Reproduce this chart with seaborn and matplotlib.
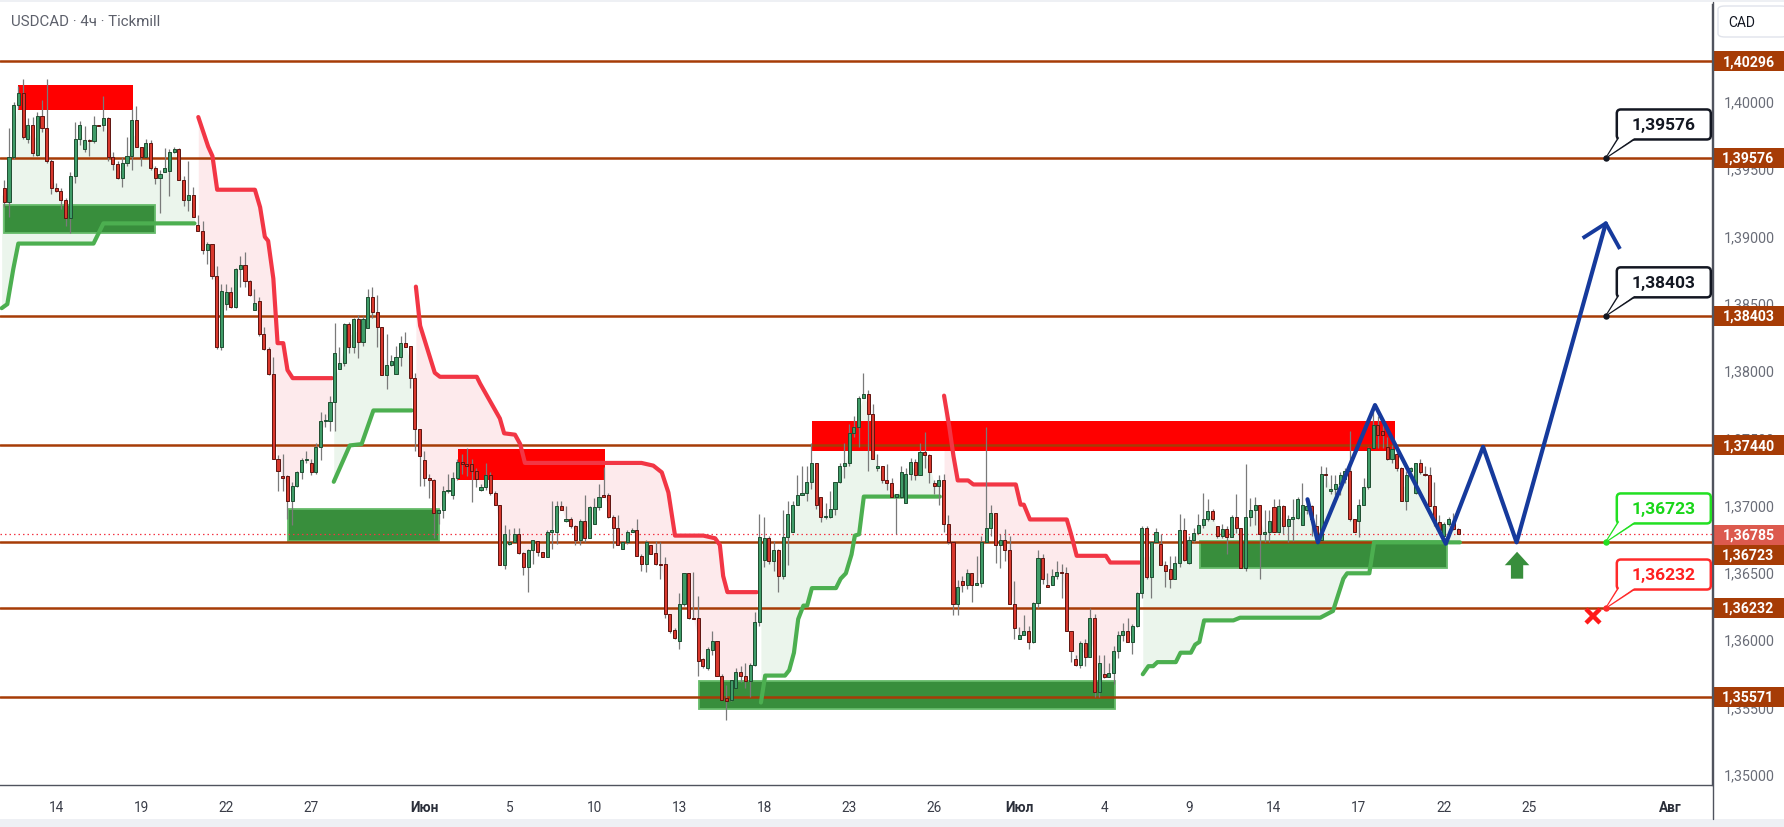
import numpy as np
import matplotlib
matplotlib.use("Agg")
import matplotlib.pyplot as plt
import matplotlib.transforms as mtransforms
from matplotlib.patches import Rectangle, Polygon, FancyBboxPatch
from matplotlib.lines import Line2D
import seaborn as sns

# ---------------- data (USDCAD 4h, Tickmill) ----------------
opens = [
 1.3935, 1.3925, 1.3958, 1.3997, 1.4006, 1.3972, 1.3982, 1.3960, 1.3989, 1.3980,
 1.3955, 1.3935, 1.3933, 1.3926, 1.3913, 1.3944, 1.3972, 1.3964, 1.3971, 1.3970,
 1.3982, 1.3982, 1.3987, 1.3958, 1.3953, 1.3943, 1.3954, 1.3959, 1.3986, 1.3966,
 1.3958, 1.3969, 1.3950, 1.3943, 1.3947, 1.3948, 1.3962, 1.3964, 1.3941, 1.3926,
 1.3930, 1.3908, 1.3903, 1.3889, 1.3894, 1.3870, 1.3817, 1.3849, 1.3858, 1.3847,
 1.3875, 1.3878, 1.3866, 1.3845, 1.3851, 1.3827, 1.3816, 1.3797, 1.3734, 1.3721,
 1.3721, 1.3703, 1.3714, 1.3724, 1.3733, 1.3731, 1.3724, 1.3743, 1.3762, 1.3762,
 1.3776, 1.3801, 1.3805, 1.3834, 1.3817, 1.3838, 1.3821, 1.3831, 1.3854, 1.3843,
 1.3832, 1.3796, 1.3804, 1.3797, 1.3810, 1.3820, 1.3818, 1.3794, 1.3756, 1.3733,
 1.3720, 1.3718, 1.3694, 1.3696, 1.3710, 1.3707, 1.3720, 1.3732, 1.3730, 1.3730,
 1.3725, 1.3711, 1.3713, 1.3722, 1.3709, 1.3700, 1.3655, 1.3671, 1.3672, 1.3678,
 1.3664, 1.3654, 1.3666, 1.3673, 1.3665, 1.3661, 1.3680, 1.3680, 1.3699, 1.3688,
 1.3689, 1.3684, 1.3674, 1.3688, 1.3675, 1.3686, 1.3698, 1.3707, 1.3707, 1.3691,
 1.3683, 1.3667, 1.3672, 1.3680, 1.3681, 1.3662, 1.3656, 1.3670, 1.3664, 1.3656,
 1.3656, 1.3619, 1.3607, 1.3599, 1.3626, 1.3649, 1.3616, 1.3616, 1.3585, 1.3579,
 1.3592, 1.3599, 1.3573, 1.3556, 1.3555, 1.3564, 1.3576, 1.3573, 1.3569, 1.3581,
 1.3613, 1.3659, 1.3675, 1.3658, 1.3666, 1.3647, 1.3676, 1.3680, 1.3700, 1.3707,
 1.3709, 1.3717, 1.3731, 1.3706, 1.3691, 1.3691, 1.3697, 1.3717, 1.3729, 1.3731,
 1.3753, 1.3758, 1.3779, 1.3782, 1.3767, 1.3727, 1.3729, 1.3718, 1.3716, 1.3706,
 1.3706, 1.3701, 1.3723, 1.3732, 1.3722, 1.3739, 1.3737, 1.3716, 1.3714, 1.3718,
 1.3686, 1.3672, 1.3626, 1.3643, 1.3640, 1.3649, 1.3640, 1.3642, 1.3672, 1.3683,
 1.3694, 1.3670, 1.3674, 1.3666, 1.3626, 1.3600, 1.3603, 1.3606, 1.3598, 1.3627,
 1.3660, 1.3640, 1.3640, 1.3647, 1.3650, 1.3649, 1.3606, 1.3585, 1.3581, 1.3597,
 1.3587, 1.3616, 1.3561, 1.3574, 1.3572, 1.3575, 1.3591, 1.3603, 1.3606, 1.3598,
 1.3610, 1.3634, 1.3683, 1.3646, 1.3672, 1.3671, 1.3655, 1.3652, 1.3645, 1.3657,
 1.3681, 1.3657, 1.3674, 1.3679, 1.3685, 1.3689, 1.3695, 1.3684, 1.3677, 1.3682,
 1.3676, 1.3691, 1.3683, 1.3653, 1.3691, 1.3696, 1.3700, 1.3678, 1.3680, 1.3698,
 1.3680, 1.3699, 1.3684, 1.3689, 1.3690, 1.3685, 1.3696, 1.3699, 1.3684, 1.3674,
 1.3723, 1.3710, 1.3712, 1.3715, 1.3719, 1.3725, 1.3689, 1.3688, 1.3700, 1.3713,
 1.3742, 1.3759, 1.3755, 1.3743, 1.3734, 1.3738, 1.3727, 1.3703, 1.3725, 1.3709,
 1.3731, 1.3723, 1.3722, 1.3699, 1.3687, 1.3677, 1.3686, 1.3687, 1.3682]

closes = [
 1.3925, 1.3958, 1.3997, 1.4006, 1.3973, 1.3982, 1.3961, 1.3989, 1.3980, 1.3955,
 1.3935, 1.3933, 1.3926, 1.3913, 1.3944, 1.3972, 1.3982, 1.3971, 1.3970, 1.3982,
 1.3981, 1.3987, 1.3958, 1.3953, 1.3943, 1.3954, 1.3959, 1.3986, 1.3966, 1.3958,
 1.3969, 1.3950, 1.3943, 1.3946, 1.3950, 1.3962, 1.3964, 1.3941, 1.3926, 1.3930,
 1.3914, 1.3903, 1.3889, 1.3894, 1.3870, 1.3817, 1.3859, 1.3858, 1.3847, 1.3875,
 1.3878, 1.3866, 1.3856, 1.3850, 1.3827, 1.3816, 1.3797, 1.3734, 1.3725, 1.3720,
 1.3703, 1.3714, 1.3724, 1.3733, 1.3734, 1.3724, 1.3743, 1.3762, 1.3763, 1.3776,
 1.3813, 1.3805, 1.3834, 1.3817, 1.3838, 1.3821, 1.3838, 1.3854, 1.3843, 1.3832,
 1.3796, 1.3804, 1.3807, 1.3810, 1.3820, 1.3817, 1.3794, 1.3756, 1.3736, 1.3720,
 1.3718, 1.3694, 1.3696, 1.3710, 1.3711, 1.3720, 1.3732, 1.3730, 1.3729, 1.3725,
 1.3719, 1.3713, 1.3722, 1.3709, 1.3700, 1.3655, 1.3678, 1.3672, 1.3678, 1.3664,
 1.3654, 1.3666, 1.3674, 1.3665, 1.3661, 1.3680, 1.3681, 1.3699, 1.3696, 1.3689,
 1.3684, 1.3674, 1.3688, 1.3675, 1.3698, 1.3698, 1.3706, 1.3706, 1.3691, 1.3683,
 1.3670, 1.3672, 1.3680, 1.3681, 1.3662, 1.3656, 1.3672, 1.3663, 1.3656, 1.3655,
 1.3619, 1.3606, 1.3601, 1.3626, 1.3649, 1.3616, 1.3615, 1.3584, 1.3580, 1.3593,
 1.3599, 1.3573, 1.3555, 1.3554, 1.3570, 1.3576, 1.3573, 1.3569, 1.3581, 1.3613,
 1.3676, 1.3675, 1.3658, 1.3666, 1.3647, 1.3676, 1.3693, 1.3700, 1.3707, 1.3709,
 1.3717, 1.3731, 1.3700, 1.3691, 1.3691, 1.3697, 1.3717, 1.3729, 1.3731, 1.3753,
 1.3758, 1.3779, 1.3782, 1.3767, 1.3734, 1.3729, 1.3718, 1.3716, 1.3706, 1.3708,
 1.3724, 1.3723, 1.3732, 1.3722, 1.3739, 1.3737, 1.3724, 1.3714, 1.3718, 1.3686,
 1.3672, 1.3626, 1.3639, 1.3640, 1.3649, 1.3640, 1.3642, 1.3672, 1.3683, 1.3694,
 1.3670, 1.3674, 1.3666, 1.3626, 1.3608, 1.3603, 1.3606, 1.3598, 1.3627, 1.3660,
 1.3645, 1.3639, 1.3647, 1.3650, 1.3649, 1.3606, 1.3591, 1.3581, 1.3597, 1.3587,
 1.3616, 1.3561, 1.3582, 1.3572, 1.3575, 1.3591, 1.3603, 1.3606, 1.3598, 1.3610,
 1.3634, 1.3683, 1.3646, 1.3672, 1.3680, 1.3655, 1.3651, 1.3645, 1.3657, 1.3681,
 1.3659, 1.3674, 1.3679, 1.3685, 1.3689, 1.3695, 1.3689, 1.3677, 1.3682, 1.3676,
 1.3691, 1.3683, 1.3653, 1.3691, 1.3696, 1.3700, 1.3678, 1.3680, 1.3688, 1.3680,
 1.3699, 1.3684, 1.3689, 1.3691, 1.3704, 1.3700, 1.3699, 1.3689, 1.3675, 1.3723,
 1.3722, 1.3712, 1.3715, 1.3722, 1.3725, 1.3689, 1.3680, 1.3700, 1.3713, 1.3742,
 1.3759, 1.3752, 1.3752, 1.3734, 1.3741, 1.3727, 1.3703, 1.3722, 1.3727, 1.3731,
 1.3724, 1.3722, 1.3699, 1.3687, 1.3681, 1.3686, 1.3689, 1.3682, 1.36785]

highs = [
 1.3941, 1.3980, 1.3999, 1.4011, 1.4016, 1.3987, 1.3988, 1.3992, 1.4001, 1.4016,
 1.3957, 1.3939, 1.3935, 1.3928, 1.3947, 1.3984, 1.3985, 1.3981, 1.3972, 1.3989,
 1.3982, 1.4004, 1.3988, 1.3962, 1.3955, 1.3958, 1.3973, 1.3994, 1.3996, 1.3966,
 1.3972, 1.3971, 1.3952, 1.3949, 1.3965, 1.3964, 1.3966, 1.3965, 1.3944, 1.3955,
 1.3936, 1.3915, 1.3911, 1.3895, 1.3894, 1.3877, 1.3864, 1.3864, 1.3862, 1.3876,
 1.3885, 1.3888, 1.3867, 1.3860, 1.3854, 1.3832, 1.3817, 1.3810, 1.3737, 1.3738,
 1.3722, 1.3717, 1.3725, 1.3735, 1.3740, 1.3734, 1.3746, 1.3769, 1.3767, 1.3781,
 1.3835, 1.3817, 1.3835, 1.3836, 1.3839, 1.3841, 1.3840, 1.3860, 1.3862, 1.3856,
 1.3832, 1.3827, 1.3811, 1.3818, 1.3825, 1.3828, 1.3818, 1.3798, 1.3756, 1.3740,
 1.3723, 1.3719, 1.3697, 1.3714, 1.3723, 1.3724, 1.3734, 1.3738, 1.3742, 1.3734,
 1.3727, 1.3715, 1.3731, 1.3724, 1.3710, 1.3700, 1.3685, 1.3682, 1.3683, 1.3683,
 1.3665, 1.3667, 1.3674, 1.3673, 1.3665, 1.3681, 1.3703, 1.3703, 1.3703, 1.3699,
 1.3691, 1.3685, 1.3689, 1.3707, 1.3699, 1.3705, 1.3715, 1.3728, 1.3709, 1.3692,
 1.3692, 1.3673, 1.3681, 1.3683, 1.3689, 1.3663, 1.3674, 1.3670, 1.3673, 1.3672,
 1.3661, 1.3619, 1.3608, 1.3634, 1.3649, 1.3649, 1.3650, 1.3632, 1.3586, 1.3594,
 1.3606, 1.3599, 1.3574, 1.3566, 1.3570, 1.3579, 1.3580, 1.3582, 1.3582, 1.3620,
 1.3693, 1.3691, 1.3677, 1.3673, 1.3667, 1.3696, 1.3703, 1.3703, 1.3722, 1.3729,
 1.3729, 1.3746, 1.3731, 1.3706, 1.3701, 1.3710, 1.3717, 1.3731, 1.3746, 1.3760,
 1.3766, 1.3781, 1.3798, 1.3785, 1.3775, 1.3738, 1.3729, 1.3730, 1.3720, 1.3708,
 1.3729, 1.3727, 1.3735, 1.3734, 1.3746, 1.3754, 1.3738, 1.3718, 1.3722, 1.3723,
 1.3692, 1.3673, 1.3644, 1.3647, 1.3652, 1.3649, 1.3662, 1.3677, 1.3758, 1.3700,
 1.3694, 1.3678, 1.3682, 1.3677, 1.3643, 1.3609, 1.3618, 1.3610, 1.3628, 1.3666,
 1.3663, 1.3649, 1.3652, 1.3658, 1.3656, 1.3654, 1.3606, 1.3588, 1.3599, 1.3600,
 1.3623, 1.3619, 1.3588, 1.3588, 1.3582, 1.3595, 1.3606, 1.3612, 1.3616, 1.3611,
 1.3635, 1.3684, 1.3684, 1.3673, 1.3683, 1.3678, 1.3658, 1.3662, 1.3662, 1.3693,
 1.3690, 1.3677, 1.3683, 1.3693, 1.3709, 1.3704, 1.3697, 1.3684, 1.3686, 1.3684,
 1.3692, 1.3708, 1.3683, 1.3730, 1.3705, 1.3706, 1.3700, 1.3696, 1.3696, 1.3704,
 1.3704, 1.3700, 1.3692, 1.3704, 1.3706, 1.3716, 1.3704, 1.3700, 1.3693, 1.3729,
 1.3728, 1.3722, 1.3722, 1.3724, 1.3727, 1.3755, 1.3689, 1.3704, 1.3720, 1.3743,
 1.3769, 1.3766, 1.3761, 1.3750, 1.3744, 1.3743, 1.3728, 1.3725, 1.3728, 1.3731,
 1.3734, 1.3729, 1.3728, 1.3717, 1.3692, 1.3687, 1.3691, 1.3694, 1.3683]

lows = [
 1.3921, 1.3914, 1.3957, 1.3994, 1.3972, 1.3969, 1.3959, 1.3959, 1.3977, 1.3954,
 1.3931, 1.3932, 1.3920, 1.3907, 1.3902, 1.3939, 1.3967, 1.3962, 1.3959, 1.3969,
 1.3981, 1.3978, 1.3955, 1.3949, 1.3942, 1.3936, 1.3952, 1.3949, 1.3966, 1.3952,
 1.3958, 1.3949, 1.3938, 1.3917, 1.3947, 1.3929, 1.3961, 1.3941, 1.3922, 1.3918,
 1.3914, 1.3903, 1.3886, 1.3879, 1.3868, 1.3816, 1.3815, 1.3845, 1.3846, 1.3846,
 1.3862, 1.3862, 1.3855, 1.3845, 1.3825, 1.3815, 1.3796, 1.3734, 1.3710, 1.3710,
 1.3689, 1.3685, 1.3713, 1.3719, 1.3731, 1.3722, 1.3723, 1.3733, 1.3758, 1.3755,
 1.3755, 1.3801, 1.3803, 1.3813, 1.3813, 1.3809, 1.3818, 1.3831, 1.3839, 1.3817,
 1.3796, 1.3786, 1.3803, 1.3797, 1.3803, 1.3817, 1.3787, 1.3740, 1.3714, 1.3714,
 1.3705, 1.3675, 1.3686, 1.3690, 1.3709, 1.3704, 1.3718, 1.3723, 1.3721, 1.3702,
 1.3713, 1.3710, 1.3711, 1.3707, 1.3700, 1.3655, 1.3652, 1.3670, 1.3672, 1.3663,
 1.3648, 1.3635, 1.3656, 1.3662, 1.3661, 1.3661, 1.3667, 1.3671, 1.3696, 1.3687,
 1.3683, 1.3670, 1.3670, 1.3672, 1.3675, 1.3686, 1.3696, 1.3706, 1.3690, 1.3668,
 1.3670, 1.3667, 1.3671, 1.3680, 1.3662, 1.3651, 1.3650, 1.3663, 1.3655, 1.3645,
 1.3616, 1.3605, 1.3600, 1.3593, 1.3625, 1.3615, 1.3615, 1.3573, 1.3579, 1.3577,
 1.3588, 1.3573, 1.3555, 1.3540, 1.3554, 1.3564, 1.3568, 1.3564, 1.3557, 1.3580,
 1.3610, 1.3654, 1.3656, 1.3651, 1.3635, 1.3645, 1.3655, 1.3680, 1.3700, 1.3707,
 1.3703, 1.3712, 1.3697, 1.3687, 1.3689, 1.3690, 1.3692, 1.3716, 1.3720, 1.3729,
 1.3750, 1.3743, 1.3779, 1.3725, 1.3734, 1.3725, 1.3716, 1.3711, 1.3706, 1.3678,
 1.3705, 1.3701, 1.3718, 1.3718, 1.3722, 1.3727, 1.3716, 1.3708, 1.3700, 1.3680,
 1.3671, 1.3618, 1.3618, 1.3635, 1.3637, 1.3628, 1.3640, 1.3639, 1.3672, 1.3677,
 1.3657, 1.3653, 1.3658, 1.3626, 1.3600, 1.3600, 1.3603, 1.3593, 1.3597, 1.3623,
 1.3641, 1.3639, 1.3640, 1.3645, 1.3631, 1.3606, 1.3583, 1.3580, 1.3579, 1.3580,
 1.3587, 1.3557, 1.3557, 1.3571, 1.3572, 1.3567, 1.3586, 1.3599, 1.3598, 1.3589,
 1.3609, 1.3631, 1.3645, 1.3631, 1.3672, 1.3655, 1.3639, 1.3638, 1.3645, 1.3654,
 1.3658, 1.3656, 1.3672, 1.3678, 1.3683, 1.3688, 1.3688, 1.3675, 1.3675, 1.3663,
 1.3676, 1.3679, 1.3653, 1.3651, 1.3684, 1.3685, 1.3645, 1.3672, 1.3672, 1.3680,
 1.3679, 1.3678, 1.3672, 1.3673, 1.3689, 1.3685, 1.3693, 1.3677, 1.3674, 1.3674,
 1.3713, 1.3708, 1.3707, 1.3707, 1.3716, 1.3688, 1.3680, 1.3676, 1.3700, 1.3712,
 1.3742, 1.3742, 1.3742, 1.3733, 1.3731, 1.3725, 1.3703, 1.3696, 1.3724, 1.3708,
 1.3723, 1.3721, 1.3699, 1.3684, 1.3678, 1.3676, 1.3684, 1.3681, 1.3678]

last_price = 1.36785

# horizontal levels
levels = [1.40296, 1.39576, 1.38403, 1.37440, 1.36723, 1.36232, 1.35571]
level_labels = ["1,40296", "1,39576", "1,38403", "1,37440", "1,36723", "1,36232", "1,35571"]

# trailing-stop (trend) line segments: bar index, price
up1_x = [-0.55, 0.64, 1.9, 2.97, 18.9, 21.0, 40.3]
up1_y = [1.3846, 1.3849, 1.3875, 1.3894, 1.3894, 1.3909, 1.3909]
up2_x = [69.8, 73.2, 75.7, 78.2, 86.3]
up2_y = [1.3717, 1.3744, 1.3745, 1.3770, 1.3770]
up3_x = [160.3, 161.2, 165.4, 166.3, 167.3, 168.2, 169.3, 170.1, 171.1, 176.2, 177.2,
         178.3, 179.5, 180.2, 181.1, 182.1, 182.7, 198.2]
up3_y = [1.3553, 1.3573, 1.3573, 1.3577, 1.3590, 1.3615, 1.3625, 1.3625, 1.3638, 1.3638,
         1.3645, 1.3649, 1.3663, 1.3677, 1.3678, 1.3706, 1.3706, 1.3706]
up4_x = [241.2, 242.4, 243.4, 244.3, 248.2, 249.2, 251.4, 252.3, 253.2, 254.2, 260.4,
         261.8, 278.8, 281.5, 283.7, 284.5, 289.2, 290.2, 308.4]
up4_y = [1.3574, 1.3580, 1.3580, 1.3583, 1.3583, 1.3590, 1.3590, 1.3596, 1.3598, 1.3614,
         1.3614, 1.3616, 1.3616, 1.3621, 1.3645, 1.3649, 1.3649, 1.3672, 1.3672]

dn1_x = [41.1, 43.2, 44.1, 45.1, 53.1, 54.2, 55.2, 55.9, 57.0, 57.9, 59.1, 60.0, 61.1, 69.4]
dn1_y = [1.3988, 1.3966, 1.3959, 1.3934, 1.3934, 1.3921, 1.3899, 1.3896, 1.3868, 1.3820,
         1.3820, 1.3800, 1.3794, 1.3794]
dn2_x = [87.2, 88.1, 91.2, 92.3, 100.1, 100.8, 105.0, 105.9, 108.2, 109.3, 110.3, 135.0,
         137.5, 139.3, 140.7, 142.1, 148.1, 150.6, 151.6, 152.3, 153.2, 159.4]
dn2_y = [1.3862, 1.3833, 1.3798, 1.3795, 1.3795, 1.3790, 1.3764, 1.3753, 1.3752, 1.3745,
         1.3731, 1.3731, 1.3729, 1.3724, 1.3709, 1.3677, 1.3677, 1.3675, 1.3670, 1.3647,
         1.3635, 1.3635]
dn3_x = [199.1, 200.2, 201.1, 202.0, 204.2, 205.3, 214.3, 215.3, 216.0, 217.3, 225.1,
         226.1, 227.2, 233.4, 234.3, 240.5]
dn3_y = [1.3781, 1.3758, 1.3736, 1.3718, 1.3718, 1.3715, 1.3715, 1.3700, 1.3700, 1.3689,
         1.3689, 1.3677, 1.3662, 1.3662, 1.3657, 1.3657]

# supply (red) and demand (green) zones: start bar, end bar, low, high
supply_zones = [(2.97, 27.2, 1.3993, 1.4012),
                (96.1, 127.2, 1.3718, 1.3741),
                (171.1, 294.6, 1.3740, 1.3762)]
demand_zones = [(0.0, 32.0, 1.3902, 1.3923),
                (60.2, 92.2, 1.3673, 1.3697),
                (147.1, 235.4, 1.3548, 1.3569),
                (253.4, 305.6, 1.3653, 1.3673)]

# projected path (blue zig-zag)
zz_x = [276.1, 278.3, 290.4, 305.4, 313.3, 320.4, 339.3]
zz_y = [1.3704, 1.3672, 1.3774, 1.3671, 1.3743, 1.3672, 1.3909]
zz_head_x = [334.4, 339.3, 342.3]
zz_head_y = [1.3898, 1.3909, 1.3890]

# callouts: level, text, border colour, text colour
call_bar = 339.3
callouts = [(1.39576, "1,39576", "#131722", "#131722"),
            (1.38403, "1,38403", "#131722", "#131722"),
            (1.36723, "1,36723", "#22e022", "#19d619"),
            (1.36232, "1,36232", "#ff2a2a", "#ff2020")]

# markers
arrow_bar, arrow_tip, arrow_base, arrow_bottom = 320.5, 1.3665, 1.3655, 1.3645
cross_bar, cross_price = 336.5, 1.3617

# x-axis labels (trading-day offsets from 14 May, 6 bars per day)
tick_labels = ["14", "19", "22", "27", "Июн", "5", "10", "13", "18", "23", "26", "Июл",
               "4", "9", "14", "17", "22", "25", "Авг"]
tick_days = [0, 3, 6, 9, 13, 16, 19, 22, 25, 28, 31, 34, 37, 40, 43, 46, 49, 52, 57]
first_day_bar, bars_per_day = 11, 6
month_labels = {"Июн", "Июл", "Авг"}

# ---------------- figure ----------------
sns.set_theme(style="white")
plt.rcParams['font.family'] = ['Roboto', 'DejaVu Sans']

W, H, DPI = 1784, 828, 100
fig = plt.figure(figsize=(W / DPI, H / DPI), dpi=DPI)
fig.patch.set_facecolor("white")
ax = fig.add_axes([0, 42 / H, 1712 / W, 781 / H])
ax.set_facecolor("white")
ax.set_xlim(-0.91, 361.8)
ax.set_ylim(1.34917, 1.40720)

n = min(len(opens), len(closes), len(highs), len(lows))
o = np.array(opens[:n]); c = np.array(closes[:n])
h = np.maximum(np.array(highs[:n]), np.maximum(o, c))
l = np.minimum(np.array(lows[:n]), np.minimum(o, c))
idx = np.arange(n)
mid = (o + c) / 2

GREEN_LINE, RED_LINE = "#4caf50", "#f23645"
GREEN_FILL, RED_FILL = "#ebf5ec", "#fdeaec"


def seg_fill(xs, ys, color):
    b = np.arange(max(0, int(np.ceil(xs[0]))), min(n - 1, int(np.floor(xs[-1]))) + 1)
    xx = np.concatenate([[xs[0]], b, [xs[-1]]])
    mm = np.interp(xx, idx, mid)
    lv = np.interp(xx, xs, ys)
    ax.fill_between(xx, lv, mm, color=color, lw=0, zorder=1)


for xs, ys in [(up1_x, up1_y), (up2_x, up2_y), (up3_x, up3_y), (up4_x, up4_y)]:
    seg_fill(xs, ys, GREEN_FILL)
for xs, ys in [(dn1_x, dn1_y), (dn2_x, dn2_y), (dn3_x, dn3_y)]:
    seg_fill(xs, ys, RED_FILL)

# zones
for x0, x1, y0, y1 in supply_zones:
    ax.add_patch(Rectangle((x0, y0), x1 - x0, y1 - y0, fc="#ff0000", ec="none", zorder=2))
for x0, x1, y0, y1 in demand_zones:
    ax.add_patch(Rectangle((x0, y0), x1 - x0, y1 - y0, fc="#388e3c", ec="#66bb6a",
                           lw=1.3, zorder=2))

# levels
BROWN = "#a63c06"
for lv in levels:
    ax.axhline(lv, color=BROWN, lw=1.8, zorder=3)
ax.axhline(last_price, color="#f23645", lw=0.9, ls=(0, (1.2, 2.4)), zorder=3.5)

# trend lines (seaborn)
for xs, ys in [(up1_x, up1_y), (up2_x, up2_y), (up3_x, up3_y), (up4_x, up4_y)]:
    sns.lineplot(x=xs, y=ys, ax=ax, color=GREEN_LINE, linewidth=3.0, sort=False,
                 estimator=None, legend=False, zorder=4, solid_capstyle="round")
for xs, ys in [(dn1_x, dn1_y), (dn2_x, dn2_y), (dn3_x, dn3_y)]:
    sns.lineplot(x=xs, y=ys, ax=ax, color=RED_LINE, linewidth=3.0, sort=False,
                 estimator=None, legend=False, zorder=4, solid_capstyle="round")

# candles
up = c >= o
body_lo = np.minimum(o, c)
body_h = np.maximum(np.abs(c - o), 0.00009)
ax.vlines(idx, l, h, color="#7a7a7a", lw=0.9, zorder=5)
ax.bar(idx[up], body_h[up], bottom=body_lo[up], width=0.66, color="#3f9c68",
       edgecolor="#1f4e31", linewidth=0.7, zorder=6)
ax.bar(idx[~up], body_h[~up], bottom=body_lo[~up], width=0.66, color="#d8382d",
       edgecolor="#5e1410", linewidth=0.7, zorder=6)

# projection
BLUE = "#163a9c"
sns.lineplot(x=zz_x, y=zz_y, ax=ax, color=BLUE, linewidth=3.0, sort=False,
             estimator=None, legend=False, zorder=8)
ax.plot(zz_head_x, zz_head_y, color=BLUE, lw=2.8, zorder=8, solid_capstyle="butt")

# green arrow + red cross
aw, sw = 2.6, 1.3
ax.add_patch(Polygon([(arrow_bar, arrow_tip), (arrow_bar + aw, arrow_base),
                      (arrow_bar + sw, arrow_base), (arrow_bar + sw, arrow_bottom),
                      (arrow_bar - sw, arrow_bottom), (arrow_bar - sw, arrow_base),
                      (arrow_bar - aw, arrow_base)], closed=True, fc="#388e3c",
                     ec="none", zorder=8))
ax.plot([cross_bar], [cross_price], marker="x", ms=10, mew=3.2, color="#ff1a1a", zorder=9)

# callouts (box sizes in pixels, anchored to the data point)
ident = mtransforms.IdentityTransform()
for lv, txt, ec, tc in callouts:
    ax_, ay_ = ax.transData.transform((call_bar, lv))
    bl, br, bb, bt = ax_ + 11, ax_ + 105, ay_ + 18.5, ay_ + 48.5
    fig.add_artist(Polygon([(ax_ + 1, ay_ + 1), (bl + 2, bb + 2), (bl + 20, bb + 2)],
                           closed=True, fc="white", ec=ec, lw=1.4, transform=ident,
                           joinstyle="miter", zorder=30))
    fig.add_artist(FancyBboxPatch((bl, bb), br - bl, bt - bb,
                                  boxstyle="round,pad=0,rounding_size=4", fc="white",
                                  ec=ec, lw=1.8, transform=ident, zorder=31))
    fig.add_artist(Polygon([(ax_ + 1.5, ay_ + 1.5), (bl + 3, bb + 2.5), (bl + 19, bb + 2.5)],
                           closed=True, fc="white", ec="none", transform=ident, zorder=32))
    fig.text((bl + br) / 2 / W, (bb + bt) / 2 / H, txt, ha="center", va="center",
             fontsize=12.5, fontweight="bold", color=tc, zorder=33)
    ax.plot([call_bar], [lv], "o", ms=3.6, color=ec, zorder=13)

# axes & ticks
for s in ["left", "top"]:
    ax.spines[s].set_visible(False)
for s in ["right", "bottom"]:
    ax.spines[s].set_color("#50535e")
    ax.spines[s].set_linewidth(1.0)
ax.grid(False)

yt = np.round(np.arange(1.350, 1.4001, 0.005), 3)
ax.yaxis.tick_right()
ax.set_yticks(yt)
ax.set_yticklabels([f"{v:.5f}".replace(".", ",") for v in yt])
ax.tick_params(axis="y", which="both", length=0, pad=8.5, labelsize=10.3,
               labelcolor="#6a6d78", right=True, left=False)

xt = [first_day_bar + bars_per_day * d for d in tick_days]
ax.set_xticks(xt)
ax.set_xticklabels(tick_labels)
ax.tick_params(axis="x", which="both", length=0, pad=11, labelsize=9.8,
               labelcolor="#3a3d48", bottom=True)
for t in ax.get_xticklabels():
    if t.get_text() in month_labels:
        t.set_fontweight("bold")
        t.set_color("#2a2e39")

# price labels on the right axis
blend = mtransforms.blended_transform_factory(ax.transAxes, ax.transData)
px = (ax.get_ylim()[1] - ax.get_ylim()[0]) / 781.0   # price per pixel
box_h = 20 * px
x0a, x1a = 1713 / 1712, 1784 / 1712
label_pos = {last_price: last_price - 1.3 * px}
for lv, lab in zip(levels, level_labels):
    y = lv
    if abs(lv - last_price) < box_h:
        y = label_pos[last_price] - box_h
    ax.add_patch(Rectangle((x0a, y - box_h / 2), x1a - x0a, box_h, transform=blend,
                           fc=BROWN, ec="none", clip_on=False, zorder=20))
    ax.text((x0a + x1a) / 2, y, lab, transform=blend, ha="center", va="center",
            fontsize=10.2, fontweight="bold", color="white", clip_on=False, zorder=21)
yl = label_pos[last_price]
ax.add_patch(Rectangle((x0a, yl - box_h / 2), x1a - x0a, box_h, transform=blend,
                       fc="#dc5a4e", ec="none", clip_on=False, zorder=20))
ax.text((x0a + x1a) / 2, yl, f"{last_price:.5f}".replace(".", ","), transform=blend,
        ha="center", va="center", fontsize=10.2, fontweight="bold", color="white",
        clip_on=False, zorder=21)

# frame decorations
fig.add_artist(Line2D([1712.5 / W, 1712.5 / W], [8 / H, 1 - 3 / H], color="#50535e",
                      lw=1.0, transform=fig.transFigure))
fig.add_artist(Rectangle((0, 0), 1, 8 / H, transform=fig.transFigure, fc="#eef0f4",
                         ec="none"))
fig.add_artist(Rectangle((0, 1 - 3 / H), 1, 3 / H, transform=fig.transFigure,
                         fc="#eef0f4", ec="none"))
fig.add_artist(FancyBboxPatch((1718 / W, 1 - 38 / H), 70 / W, 31 / H,
                              boxstyle="round,pad=0,rounding_size=0.004",
                              transform=fig.transFigure, fc="white", ec="#e0e3eb", lw=1))
fig.text(1742 / W, 1 - 23 / H, "CAD", ha="center", va="center", fontsize=10,
         color="#131722")
fig.text(11 / W, 1 - 22 / H, "USDCAD · 4ч · Tickmill", ha="left", va="center",
         fontsize=10.8, color="#5d606b")

fig.savefig("out.png", dpi=DPI, facecolor="white")
